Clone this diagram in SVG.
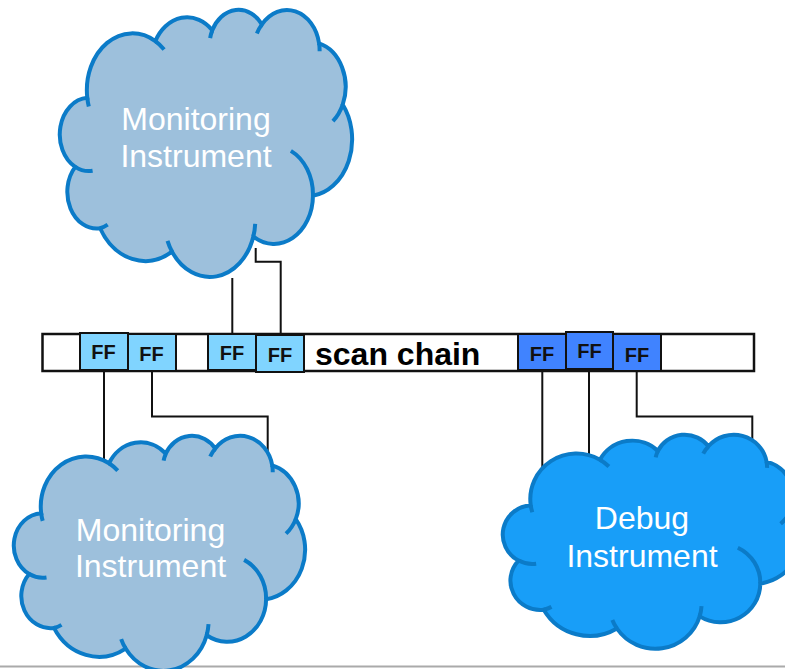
<svg xmlns="http://www.w3.org/2000/svg" xmlns:xlink="http://www.w3.org/1999/xlink" width="785" height="669" viewBox="0 0 785 669">
  <style>
    .wire { fill: none; stroke: #111; stroke-width: 2; }
    .bar { fill: #fff; stroke: #111; stroke-width: 2.5; }
    .ff-light { fill: #80d4ff; stroke: #111; stroke-width: 2; }
    .ff-dark { fill: #4083ff; stroke: #111; stroke-width: 2; }
    .ff-label { font-family: "Liberation Sans", Arial, sans-serif; font-weight: bold; font-size: 20px; fill: #111; text-anchor: middle; }
    .chain-label { font-family: "Liberation Sans", Arial, sans-serif; font-weight: bold; font-size: 32px; fill: #000; }
    .cloud-label { font-family: "Liberation Sans", Arial, sans-serif; font-size: 32px; fill: #fff; text-anchor: middle; }
    .cloud { stroke: #0b7bc8; stroke-width: 4; }
    .monitor { fill: #9dc0dc; }
    .debug { fill: #189ef8; }
  </style>
  <defs>
    <!-- cloud outline and inner creases in a 43200 x 43200 unit box -->
    <path id="cloudOutline" vector-effect="non-scaling-stroke" d="M3900 14370 A6753 9190 0 0 1 14005 5202 A5333 7267 0 0 1 22456 3432 A4365 5945 0 0 1 29833 2481 A4857 6595 0 0 1 38318 5576 A5333 7273 0 0 1 41819 15460 A6775 9220 0 0 1 37405 30203 A5785 7867 0 0 1 28556 36813 A6752 9215 0 0 1 16481 39264 A7720 10543 0 0 1 5805 35470 A4360 5918 0 0 1 2114 25548 A4345 5945 0 0 1 3900 14370 Z"/>
    <path id="cloudCreases" fill="none" vector-effect="non-scaling-stroke" d="M4693 26177 A4345 5945 0 0 1 2114 25548 M6928 34899 A4360 5918 0 0 1 5805 35470 M16481 39264 A6752 9215 0 0 1 15813 37524 M28827 34751 A6752 9215 0 0 1 28556 36813 M34129 22954 A5785 7867 0 0 1 37405 30203 M41819 15460 A5333 7273 0 0 1 40371 18136 M38318 5576 A4857 6595 0 0 1 38395 6840 M29078 3952 A4857 6595 0 0 1 29833 2481 M22141 4720 A4365 5945 0 0 1 22456 3432 M14005 5202 A6753 9190 0 0 1 15305 6551 M4127 15789 A6753 9190 0 0 1 3900 14370"/>
  </defs>

  <rect x="0" y="0" width="785" height="669" fill="#fff"/>

  <!-- bottom rule -->
  <line x1="0" y1="666.5" x2="785" y2="666.5" stroke="#aaaaaa" stroke-width="2"/>

  <!-- wires between flip-flops and instruments -->
  <g id="connectors">
    <path class="wire" d="M104 371 V464"/>
    <path class="wire" d="M152 371 V416.5 H267.7 V456"/>
    <path class="wire" d="M232.3 334 V278"/>
    <path class="wire" d="M280.7 335 V261.7 H255.7 V248"/>
    <path class="wire" d="M542.3 371 V478"/>
    <path class="wire" d="M589 369 V462"/>
    <path class="wire" d="M636.7 371 V416.5 H752.3 V446"/>
  </g>

  <!-- scan chain -->
  <g id="scan-chain">
    <rect class="bar" x="42.5" y="334" width="711.5" height="37"/>
    <text class="chain-label" x="315" y="365">scan chain</text>
  </g>

  <g id="ff1">
    <rect class="ff-light" x="80" y="333" width="48" height="37"/>
    <text class="ff-label" x="103.5" y="358.5">FF</text>
  </g>
  <g id="ff2">
    <rect class="ff-light" x="128" y="334" width="48" height="37"/>
    <text class="ff-label" x="151.5" y="360.5">FF</text>
  </g>
  <g id="ff3">
    <rect class="ff-light" x="208" y="334" width="48" height="36"/>
    <text class="ff-label" x="232" y="360">FF</text>
  </g>
  <g id="ff4">
    <rect class="ff-light" x="256" y="335" width="48" height="37"/>
    <text class="ff-label" x="280" y="361.5">FF</text>
  </g>
  <g id="ff5">
    <rect class="ff-dark" x="518" y="334" width="48" height="36"/>
    <text class="ff-label" x="542" y="360.5">FF</text>
  </g>
  <g id="ff6">
    <rect class="ff-dark" x="566" y="332" width="47" height="37"/>
    <text class="ff-label" x="589.5" y="357.5">FF</text>
  </g>
  <g id="ff7">
    <rect class="ff-dark" x="613" y="334" width="48" height="37"/>
    <text class="ff-label" x="637" y="361.5">FF</text>
  </g>

  <!-- instruments -->
  <g id="monitor-top">
    <g class="cloud monitor" transform="translate(61 9) scale(0.0067361 0.0061806)">
      <use xlink:href="#cloudOutline"/>
      <use xlink:href="#cloudCreases"/>
    </g>
    <text class="cloud-label" x="196" y="130">Monitoring</text>
    <text class="cloud-label" x="196" y="166.7">Instrument</text>
  </g>

  <g id="monitor-bottom">
    <g class="cloud monitor" transform="translate(15 435) scale(0.0067130 0.0054398)">
      <use xlink:href="#cloudOutline"/>
      <use xlink:href="#cloudCreases"/>
    </g>
    <text class="cloud-label" x="150.5" y="540.7">Monitoring</text>
    <text class="cloud-label" x="150.5" y="576.7">Instrument</text>
  </g>

  <g id="debug">
    <g class="cloud debug" transform="translate(504 434) scale(0.0068519 0.0049537)">
      <use xlink:href="#cloudOutline"/>
      <use xlink:href="#cloudCreases"/>
    </g>
    <text class="cloud-label" x="642" y="529.3">Debug</text>
    <text class="cloud-label" x="642" y="566.7">Instrument</text>
  </g>
</svg>
